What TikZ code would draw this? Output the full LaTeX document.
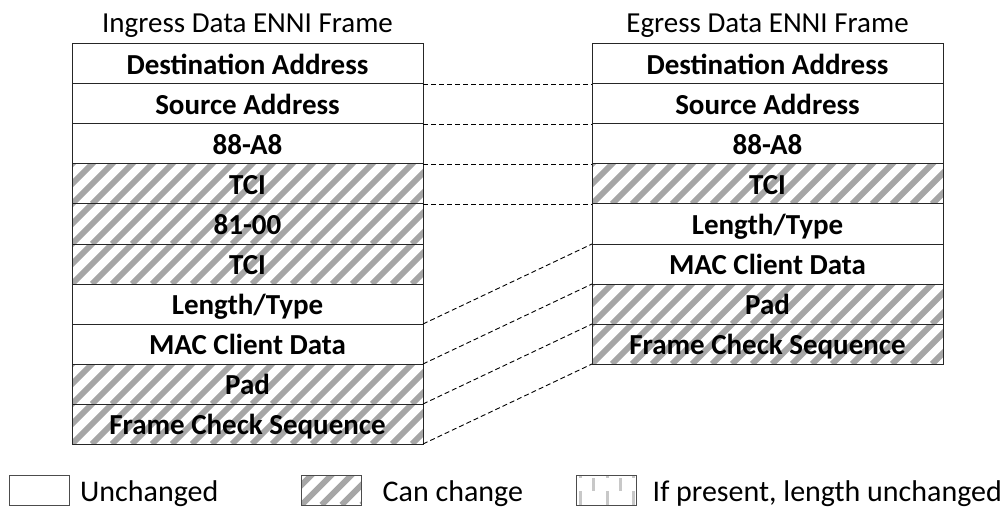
\documentclass[tikz,border=0pt]{standalone}
\usepackage{fontspec}
\setmainfont{Carlito}
\usetikzlibrary{positioning}

\definecolor{hatchgray}{HTML}{A6A6A6}
\definecolor{tickgray}{HTML}{C8C8C8}

\tikzset{
  field/.style={draw=black!85, line width=1pt, minimum width=351pt, minimum height=40pt,
    inner sep=0pt, outer sep=0pt, text height=24pt, text depth=3pt,
    font=\fontsize{29}{30}\selectfont\bfseries},
  key/.style={draw=black!70, line width=1pt, minimum width=60pt, minimum height=30pt,
    inner sep=0pt, outer sep=0pt},
  keytext/.style={inner sep=0pt, text height=24pt, text depth=1pt,
    font=\fontsize{30}{31}\selectfont},
  title/.style={inner sep=0pt, anchor=base, font=\fontsize{29}{30}\selectfont},
  unchanged/.style={fill=white},
  stripe/.style={line width=6pt, hatchgray},
  hatched/.style={path picture={
    \foreach \k in {-2,...,18}
      \draw[stripe] ([xshift=\k*20]path picture bounding box.south west) -- ++(45:80pt);}},
  tick/.style={line width=3pt, tickgray},
  ticked/.style={path picture={
    \foreach \dx in {4,30.5,57}{
      \draw[tick] ([xshift=\dx]path picture bounding box.south west) -- ++(0pt,14pt);
      \draw[tick] ([xshift=\dx]path picture bounding box.north west) -- ++(0pt,-3pt);}
    \foreach \dx in {17,44}
      \draw[tick] ([xshift=\dx,yshift=-3]path picture bounding box.north west) -- ++(0pt,-13pt);}},
  link/.style={dash pattern=on 5pt off 3pt, line width=0.9pt},
}

\begin{document}
\begin{tikzpicture}[x=1pt,y=-1pt]
  \useasboundingbox (0,0) rectangle (1002,508);

  % ingress frame
  \foreach \sty/\txt [count=\i] in {unchanged/{Destination Address}, unchanged/{Source Address},
      unchanged/{88-A8}, hatched/{TCI}, hatched/{81-00}, hatched/{TCI},
      unchanged/{Length/Type}, unchanged/{MAC Client Data}, hatched/{Pad},
      hatched/{Frame Check Sequence}}
    \node[field,\sty] (l\i) at (247.5, 24+40*\i) {\txt};

  % egress frame
  \foreach \sty/\txt [count=\i] in {unchanged/{Destination Address}, unchanged/{Source Address},
      unchanged/{88-A8}, hatched/{TCI}, unchanged/{Length/Type},
      unchanged/{MAC Client Data}, hatched/{Pad}, hatched/{Frame Check Sequence}}
    \node[field,\sty] (r\i) at (767.5, 24+40*\i) {\txt};

  \node[title] (ti) at ([yshift=11pt]l1.north) {Ingress Data ENNI Frame};
  \node[title] (te) at ([yshift=11pt]r1.north) {Egress Data ENNI Frame};

  \foreach \a/\b in {1/1,2/2,3/3,4/4,7/5,8/6,9/7,10/8}
    \draw[link] (l\a.south east) -- (r\b.south west);

  % legend
  \node[key,unchanged] (k1) at (39,490) {};
  \node[key,hatched] (k2) at (331.5,490) {};
  \node[key,ticked] (k3) at (606.5,490) {};
  \node[keytext, right=11pt of k1] (t1) {Unchanged};
  \node[keytext, right=21pt of k2] (t2) {Can change};
  \node[keytext, right=16pt of k3] (t3) {If present, length unchanged};
\end{tikzpicture}
\end{document}
